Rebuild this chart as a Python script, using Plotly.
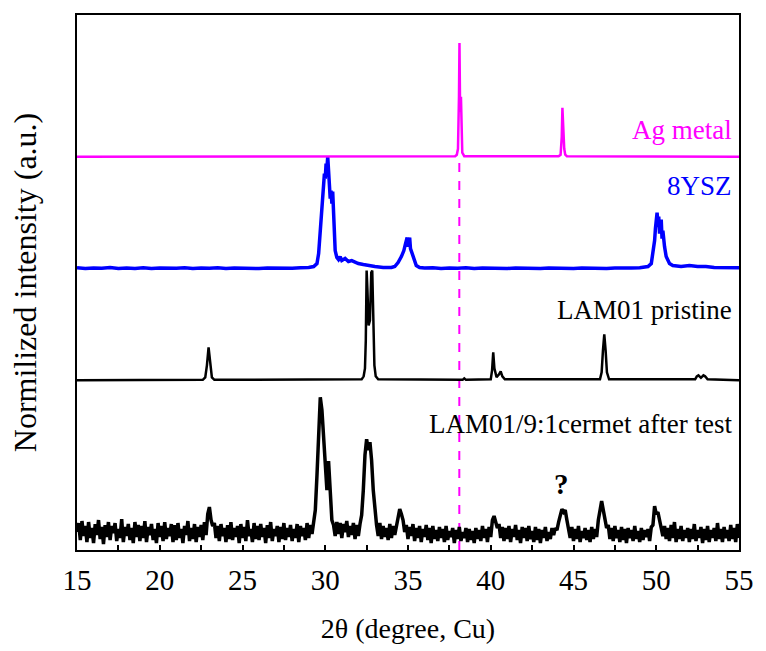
import plotly.graph_objects as go

# ---------------- data (heights in a.u., relative to each pattern's baseline) -------------
ag_x = [15, 37.85, 37.95, 38.02, 38.08, 38.11, 38.14, 38.17, 38.2, 38.23, 38.28, 38.4,
        44.1, 44.22, 44.29, 44.33, 44.37, 44.41, 44.44, 44.5, 44.6, 55]
ag_y = [0, 0.5, 2, 8, 60, 114, 60, 45, 60, 20, 4, 0.5,
        0.5, 2, 20, 49, 25, 26, 8, 2, 0.5, 0]

ysz_x = [15, 15.5, 16, 16.5, 17, 17.5, 18, 18.5, 19, 19.5, 20, 20.5, 21, 21.5, 22, 22.5,
         23, 23.5, 24, 24.5, 25, 25.5, 26, 26.5, 27, 27.5, 28, 28.5, 29, 29.3, 29.5, 29.6,
         29.7, 29.8, 29.9, 29.95, 30.0, 30.05, 30.1, 30.15, 30.2, 30.25, 30.3, 30.35, 30.4,
         30.45, 30.5, 30.55, 30.6, 30.7, 30.8, 30.9, 31.0, 31.2, 31.4, 31.6, 31.8, 32.0,
         32.3, 32.6, 33.0, 33.5, 34.0, 34.2, 34.4, 34.6, 34.75, 34.85, 34.95, 35.0, 35.05,
         35.1, 35.15, 35.25, 35.35, 35.5, 35.7, 36, 36.5, 37, 37.5, 38, 38.5, 39, 39.5, 40,
         40.5, 41, 41.5, 42, 42.5, 43, 43.5, 44, 44.5, 45, 45.5, 46, 46.5, 47, 47.5, 48,
         48.5, 49, 49.3, 49.5, 49.7, 49.8, 49.9, 49.95, 50.0, 50.05, 50.1, 50.15, 50.2,
         50.25, 50.3, 50.35, 50.4, 50.5, 50.6, 50.8, 51, 51.5, 52, 52.5, 53, 53.5, 54,
         54.5, 55]
ysz_y = [0.8, 0, 0.6, 0.2, 1, 0, 0.5, 0, 0.7, 0, 0.5, 0, 0.3, 0.8, 0, 0.6,
         0.2, 0.7, 0, 0.5, 0.2, 0.6, 0, 0.5, 0.2, 0.6, 0.3, 0.8, 1, 2, 5, 15,
         35, 60, 80, 95, 90, 105, 100, 112, 98, 85, 70, 78, 65,
         77, 50, 30, 18, 11, 9, 12, 8, 10, 7, 8, 6, 5,
         4, 3, 2, 1, 1, 2, 6, 12, 18, 25, 31, 22, 27,
         31, 20, 15, 8, 3, 1, 0.5, 0.8, 0, 0.6, 0.2, 0.7, 0, 0.5, 0.2, 0.6,
         0, 0.5, 0.2, 0.7, 0, 0.5, 0.2, 0.6, 0, 0.5, 0.2, 0.7, 0, 0.5, 0.2, 0.6,
         0.8, 1, 2, 5, 15, 28, 40, 48, 56, 45, 52, 35, 42,
         49, 30, 38, 22, 12, 5, 3, 2, 3, 2, 2, 1, 1, 0.5,
         0.8, 0.3]

lam_x = [15, 22.6, 22.75, 22.85, 22.95, 23.05, 23.15, 23.3,
         32.2, 32.32, 32.4, 32.45, 32.5, 32.55, 32.62, 32.7, 32.78, 32.84, 32.9, 32.97, 33.05, 33.2,
         38.3, 38.4, 38.5,
         40.0, 40.08, 40.15, 40.22, 40.35, 40.5, 40.6, 40.7, 40.85,
         46.6, 46.7, 46.78, 46.86, 46.94, 47.02, 47.15,
         52.35, 52.45, 52.55, 52.7, 52.85, 52.95, 53.1, 55]
lam_y = [0, 0.5, 3, 15, 33, 15, 3, 0.5,
         1, 4, 12, 40, 110, 90, 55, 60, 108, 110, 60, 15, 4, 1,
         0.5, 2, 0.5,
         1, 10, 28, 12, 3, 6, 9, 4, 1,
         1, 8, 30, 46, 30, 8, 1,
         1, 4, 5, 2.5, 5, 4, 1, 0]

# cermet after test: 0.1 degree steps from 15.0 to 55.0
cermet_x0, cermet_dx = 15.0, 0.1
cermet_y = [
    18, 27, 10, 29, 14, 24, 8, 28, 12, 22,
    7, 26, 15, 30, 11, 23, 6, 25, 13, 28,
    10, 24, 17, 27, 9, 21, 12, 31, 8, 23,
    14, 26, 10, 22, 7, 28, 13, 25, 9, 24,
    12, 29, 8, 23, 15, 26, 10, 21, 7, 27,
    13, 24, 9, 28, 11, 22, 14, 26, 8, 25,
    10, 27, 12, 21, 7, 24, 15, 29, 9, 22,
    11, 26, 8, 23, 13, 25, 10, 28, 15, 36,
    43, 30, 24, 27, 12, 24, 9, 26, 14, 22,
    8, 25, 11, 28, 10, 22, 13, 24, 7, 26,
    12, 23, 9, 30, 14, 21, 8, 27, 11, 24,
    10, 26, 13, 22, 7, 25, 12, 28, 9, 21,
    14, 24, 8, 23, 11, 27, 10, 22, 13, 25,
    9, 21, 12, 26, 8, 24, 14, 22, 10, 27,
    12, 25, 16, 28, 40, 75, 125, 153, 140, 110,
    80, 60, 89, 50, 30, 25, 14, 28, 16, 27,
    12, 26, 18, 29, 13, 24, 15, 27, 11, 25,
    14, 26, 35, 60, 95, 111, 100, 108, 90, 60,
    38, 25, 14, 27, 11, 24, 13, 22, 10, 26,
    12, 24, 15, 25, 33, 41, 36, 30, 18, 25,
    11, 23, 14, 26, 9, 22, 12, 24, 8, 21,
    13, 25, 10, 22, 7, 24, 11, 20, 9, 23,
    12, 21, 8, 24, 10, 19, 13, 22, 7, 20,
    11, 23, 9, 18, 12, 22, 8, 21, 10, 19,
    7, 22, 11, 20, 9, 24, 12, 21, 8, 23,
    13, 30, 34, 28, 22, 26, 12, 23, 9, 22,
    11, 24, 8, 21, 13, 25, 10, 20, 7, 23,
    12, 22, 9, 24, 11, 19, 8, 23, 10, 21,
    7, 20, 12, 23, 9, 18, 11, 22, 15, 22,
    20, 28, 35, 41, 38, 40, 30, 22, 12, 23,
    9, 21, 11, 24, 8, 19, 12, 22, 10, 20,
    8, 23, 11, 21, 13, 30, 38, 49, 40, 32,
    22, 25, 11, 22, 9, 24, 12, 20, 8, 23,
    10, 21, 7, 22, 12, 20, 9, 24, 11, 19,
    8, 22, 10, 20, 13, 21, 9, 23, 25, 44,
    36, 38, 30, 25, 14, 24, 11, 22, 9, 25,
    12, 28, 8, 21, 11, 24, 9, 20, 12, 22,
    8, 21, 11, 26, 9, 20, 12, 23, 7, 21,
    10, 24, 8, 20, 12, 22, 9, 27, 11, 21,
    8, 23, 12, 20, 9, 25, 11, 22, 8, 26,
    12]
cermet_x = [round(cermet_x0 + i * cermet_dx, 2) for i in range(len(cermet_y))]

# vertical stacking offsets
offsets = {"cermet": 0, "lam": 170, "ysz": 282, "ag": 394}

labels = ["Ag metal", "8YSZ", "LAM01 pristine", "LAM01/9:1cermet after test"]
ag_line_x = 38.1
x_ticks = [15, 20, 25, 30, 35, 40, 45, 50, 55]

# ---------------- figure ----------------
FONT = "Liberation Serif, Times New Roman, serif"
fig = go.Figure()

fig.add_trace(go.Scatter(x=[ag_line_x, ag_line_x], y=[0, offsets["ag"]], mode="lines",
                         line=dict(color="#FF00FF", width=2, dash="dash"), hoverinfo="skip"))
fig.add_trace(go.Scatter(x=cermet_x, y=[v + offsets["cermet"] for v in cermet_y], mode="lines",
                         line=dict(color="black", width=3.5)))
fig.add_trace(go.Scatter(x=lam_x, y=[v + offsets["lam"] for v in lam_y], mode="lines",
                         line=dict(color="black", width=2.5)))
fig.add_trace(go.Scatter(x=ysz_x, y=[v + offsets["ysz"] for v in ysz_y], mode="lines",
                         line=dict(color="#0000FF", width=3.5)))
fig.add_trace(go.Scatter(x=ag_x, y=[v + offsets["ag"] for v in ag_y], mode="lines",
                         line=dict(color="#FF00FF", width=2.5)))

ann_font = dict(family=FONT, size=27)
fig.add_annotation(x=0.993, xref="x domain", y=421, yref="y", text=labels[0], showarrow=False,
                   xanchor="right", yanchor="middle", font=dict(ann_font, color="#FF00FF"))
fig.add_annotation(x=0.993, xref="x domain", y=365, yref="y", text=labels[1], showarrow=False,
                   xanchor="right", yanchor="middle", font=dict(ann_font, color="#0000FF"))
fig.add_annotation(x=0.993, xref="x domain", y=240, yref="y", text=labels[2], showarrow=False,
                   xanchor="right", yanchor="middle", font=dict(ann_font, color="black"))
fig.add_annotation(x=0.993, xref="x domain", y=126, yref="y", text=labels[3], showarrow=False,
                   xanchor="right", yanchor="middle", font=dict(ann_font, color="black"))
fig.add_annotation(x=44.3, y=66, text="<b>?</b>", showarrow=False, xanchor="center",
                   yanchor="middle", font=dict(family=FONT, size=29, color="black"))

fig.update_layout(
    width=766, height=651,
    margin=dict(l=77, r=15, t=15, b=100),
    paper_bgcolor="white", plot_bgcolor="white",
    showlegend=False,
    font=dict(family=FONT, color="black"),
)
fig.update_xaxes(
    range=[15, 55], tickvals=x_ticks, ticks="inside", ticklen=5, tickwidth=1.5,
    tickcolor="black", showline=True, linecolor="black", linewidth=1.5, mirror=True,
    showgrid=False, zeroline=False, tickfont=dict(family=FONT, size=29),
    ticklabelstandoff=3,
    minor=dict(dtick=2.5, ticks="inside", ticklen=5, tickwidth=1.5, tickcolor="black",
               showgrid=False),
    title=dict(text="2θ (degree, Cu)", font=dict(family=FONT, size=28), standoff=24),
)
fig.update_yaxes(
    range=[0, 536], showticklabels=False, ticks="", showline=True, linecolor="black",
    linewidth=1.5, mirror=True, showgrid=False, zeroline=False,
    title=dict(text="Normilized intensity (a.u.)", font=dict(family=FONT, size=32), standoff=29),
)

fig.write_html("out.html")
